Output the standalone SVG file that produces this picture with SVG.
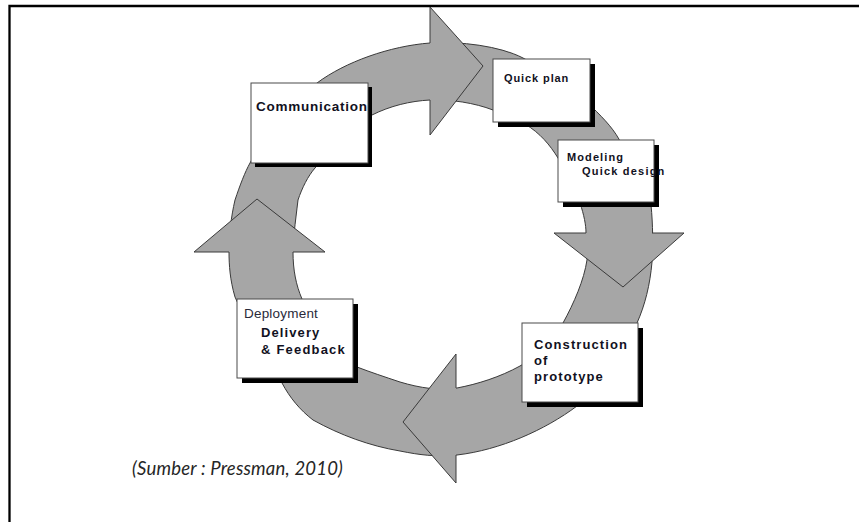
<svg xmlns="http://www.w3.org/2000/svg" width="859" height="522" viewBox="0 0 859 522">
  <style>
    .band { fill: #a6a6a6; stroke: #3a3a3a; stroke-width: 1; fill-rule: evenodd; }
    .head { fill: #a6a6a6; stroke: #3a3a3a; stroke-width: 1; stroke-linejoin: miter; }
    .box { fill: #ffffff; stroke: #4a4a4a; stroke-width: 1; }
    .shadow { fill: #000000; }
    .lbl { font-family: "Liberation Sans", Arial, sans-serif; font-weight: bold; fill: #111122; }
    .lbl-r { font-family: "Liberation Sans", Arial, sans-serif; font-weight: normal; fill: #2a2a3a; }
    .cap { font-family: Lato, "Liberation Sans", sans-serif; font-style: italic; fill: #262626; }
  </style>

  <rect width="859" height="522" fill="#ffffff"/>
  <!-- page frame -->
  <path d="M9.5,522 V6 H859" fill="none" stroke="#000000" stroke-width="2.3"/>

  <g id="connectors">
    <!-- circular band -->
    <path class="band" d="
      M317,83 C345,62 390,46 430,43 C460,41 500,46 523,58 C555,75 580,92 592,107
      C605,120 615,130 622,145 C640,170 650,190 651,205 C653,225 653,245 652,262
      C650,285 645,305 637,323 C630,350 610,385 577,406 C545,430 500,450 457,455
      C435,457 420,455 400,451 C370,446 340,435 313,420 C300,410 290,398 282,383
      C262,350 245,320 235,297 C230,280 229,265 229,252 C229,235 231,217 235,200
      C240,185 245,172 250,163 C270,125 295,100 317,83 Z
      M372,115 C390,106 410,101 430,100 C450,99 475,103 493,110 C505,115 515,119 525,124
      C540,133 550,145 558,158 C568,175 576,190 580,203 C584,215 586,225 586,233
      C587,245 587,252 587,260 C584,280 574,303 563,323 C555,340 540,355 520,366
      C500,377 478,384 457,388 C440,391 420,388 400,382 C385,377 370,372 357,367
      C335,355 315,330 302,299 C296,285 293,270 293,252 C293,240 295,225 298,200
      C302,188 308,176 315,168 C335,145 352,125 372,115 Z"/>
    <!-- arrow heads -->
    <path id="head-right" class="head" d="M430,43 L430,7 L483,66 L430,135 L430,100"/>
    <path id="head-down" class="head" d="M586,233 L554,233 L623,287 L684,233 L652,233"/>
    <path id="head-left" class="head" d="M456,388 L456,354 L403,422 L456,483 L456,455"/>
    <path id="head-up" class="head" d="M229,252 L194,252 L257,199 L325,252 L293,252"/>
  </g>

  <g id="communication">
    <rect class="shadow" x="255" y="87" width="117" height="80"/>
    <rect class="box" x="251" y="83" width="117" height="80"/>
    <text class="lbl" x="256" y="111" font-size="13.5" letter-spacing="0.75">Communication</text>
  </g>

  <g id="quick-plan">
    <rect class="shadow" x="498" y="64" width="97" height="63"/>
    <rect class="box" x="493" y="59" width="97" height="63"/>
    <text class="lbl" x="504" y="82" font-size="11" letter-spacing="0.9">Quick plan</text>
  </g>

  <g id="modeling">
    <rect class="shadow" x="563" y="145" width="96" height="62"/>
    <rect class="box" x="558" y="140" width="96" height="62"/>
    <text class="lbl" x="567" y="161" font-size="11" letter-spacing="1.1">Modeling</text>
    <text class="lbl" x="582" y="175" font-size="11" letter-spacing="1.2">Quick design</text>
  </g>

  <g id="construction">
    <rect class="shadow" x="527" y="328" width="116" height="79"/>
    <rect class="box" x="522" y="323" width="116" height="79"/>
    <text class="lbl" x="534" y="349" font-size="13" letter-spacing="1.1">Construction</text>
    <text class="lbl" x="534" y="365" font-size="13" letter-spacing="1.1">of</text>
    <text class="lbl" x="534" y="381" font-size="13" letter-spacing="1.1">prototype</text>
  </g>

  <g id="deployment">
    <rect class="shadow" x="242" y="304" width="116" height="79"/>
    <rect class="box" x="237" y="299" width="116" height="79"/>
    <text class="lbl-r" x="244" y="318" font-size="13.5" letter-spacing="0.2">Deployment</text>
    <text class="lbl" x="261" y="337" font-size="13" letter-spacing="1.1">Delivery</text>
    <text class="lbl" x="261" y="354" font-size="13" letter-spacing="1.2">&amp; Feedback</text>
  </g>

  <text class="cap" x="132" y="475" font-size="18.5" letter-spacing="0.2">(Sumber : Pressman, 2010)</text>
</svg>
